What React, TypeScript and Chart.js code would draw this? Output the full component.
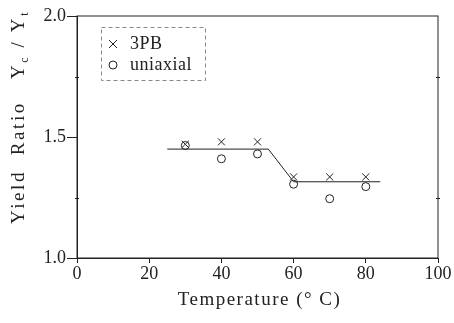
import React, { useEffect, useRef } from "react";
import { Chart, registerables } from "chart.js";

Chart.register(...registerables);

const temps = [30, 40, 50, 60, 70, 80];
const threePB = [1.47, 1.48, 1.48, 1.335, 1.335, 1.335];
const uniaxial = [1.465, 1.41, 1.43, 1.305, 1.245, 1.295];
const fitX = [25, 53, 60, 84];
const fitY = [1.45, 1.45, 1.315, 1.315];
const xTicks = [0, 20, 40, 60, 80, 100];
const yTicks = [1.0, 1.5, 2.0];
const yMinorTicks = [1.25, 1.75];

const FONT = '"Liberation Serif", "DejaVu Serif", serif';

const overlay = {
  id: "overlay",
  afterDraw(chart: any) {
    const { ctx, chartArea, scales } = chart;
    ctx.save();
    // frame
    ctx.strokeStyle = "#222";
    ctx.lineWidth = 1;
    ctx.strokeRect(chartArea.left, chartArea.top, chartArea.right - chartArea.left, chartArea.bottom - chartArea.top);

    // minor y ticks
    ctx.beginPath();
    for (const v of yMinorTicks) {
      const py = Math.round(scales.y.getPixelForValue(v)) + 0.5;
      ctx.moveTo(chartArea.left - 2, py);
      ctx.lineTo(chartArea.left + 2, py);
      ctx.moveTo(chartArea.right - 2, py);
      ctx.lineTo(chartArea.right + 2, py);
    }
    ctx.stroke();

    // x title
    ctx.fillStyle = "#222";
    ctx.font = `19px ${FONT}`;
    (ctx as any).letterSpacing = "1.5px";
    ctx.textAlign = "center";
    ctx.textBaseline = "middle";
    ctx.fillText("Temperature (\u00B0 C)", (chartArea.left + chartArea.right) / 2 + 2, 300);

    // y title with subscripts
    ctx.translate(18, 117);
    ctx.rotate(-Math.PI / 2);
    const parts: [string, boolean][] = [
      ["Yield  Ratio   Y", false],
      ["c", true],
      [" / Y", false],
      ["t", true],
    ];
    (ctx as any).letterSpacing = "2.6px";
    const mainFont = `19px ${FONT}`;
    const subFont = `12px ${FONT}`;
    let total = 0;
    for (const [t, s] of parts) {
      ctx.font = s ? subFont : mainFont;
      total += ctx.measureText(t).width;
    }
    let x = -total / 2;
    ctx.textAlign = "left";
    ctx.textBaseline = "alphabetic";
    for (const [t, s] of parts) {
      ctx.font = s ? subFont : mainFont;
      ctx.fillText(t, x, s ? 10 : 6);
      x += ctx.measureText(t).width;
    }
    ctx.setTransform(1, 0, 0, 1, 0, 0);

    // legend
    ctx.strokeStyle = "#888";
    ctx.setLineDash([4, 3]);
    ctx.lineWidth = 1;
    ctx.strokeRect(101.5, 27.5, 104, 53);
    ctx.setLineDash([]);
    ctx.strokeStyle = "#222";
    ctx.lineWidth = 1;
    ctx.beginPath();
    ctx.moveTo(109, 40);
    ctx.lineTo(117, 48);
    ctx.moveTo(117, 40);
    ctx.lineTo(109, 48);
    ctx.stroke();
    ctx.beginPath();
    ctx.arc(113, 65, 4, 0, Math.PI * 2);
    ctx.stroke();
    ctx.fillStyle = "#222";
    ctx.font = `18px ${FONT}`;
    (ctx as any).letterSpacing = "0.5px";
    ctx.textAlign = "left";
    ctx.textBaseline = "middle";
    ctx.fillText("3PB", 130, 44);
    ctx.fillText("uniaxial", 130, 65);
    ctx.restore();
  },
};

export default function App() {
  const ref = useRef<HTMLCanvasElement>(null);
  useEffect(() => {
    if (!ref.current) return;
    const chart = new Chart(ref.current, {
      type: "scatter",
      data: {
        datasets: [
          {
            label: "fit",
            type: "line",
            data: fitX.map((x, i) => ({ x, y: fitY[i] })),
            borderColor: "#222",
            borderWidth: 1,
            pointRadius: 0,
            fill: false,
          } as any,
          {
            label: "3PB",
            data: temps.map((x, i) => ({ x, y: threePB[i] })),
            pointStyle: "crossRot",
            pointRadius: 5,
            borderColor: "#222",
            borderWidth: 1,
          },
          {
            label: "uniaxial",
            data: temps.map((x, i) => ({ x, y: uniaxial[i] })),
            pointStyle: "circle",
            pointRadius: 4,
            backgroundColor: "rgba(255,255,255,0)",
            borderColor: "#222",
            borderWidth: 1,
          },
        ],
      },
      options: {
        animation: false,
        responsive: true,
        maintainAspectRatio: false,
        layout: { padding: { top: 16, right: 16, left: 0, bottom: 0 } },
        plugins: { legend: { display: false }, tooltip: { enabled: false } },
        scales: {
          x: {
            type: "linear",
            min: 0,
            max: 100,
            afterBuildTicks: (s: any) => {
              s.ticks = xTicks.map((v) => ({ value: v }));
            },
            afterFit: (s: any) => {
              s.height = 65;
            },
            grid: { drawOnChartArea: false, tickLength: 5, color: "#222" },
            border: { color: "#222" },
            ticks: {
              color: "#222",
              font: { family: FONT, size: 18 },
              padding: 0,
              maxRotation: 0,
            },
          },
          y: {
            type: "linear",
            min: 1.0,
            max: 2.0,
            afterBuildTicks: (s: any) => {
              s.ticks = yTicks.map((v) => ({ value: v }));
            },
            afterFit: (s: any) => {
              s.width = 77;
            },
            grid: { drawOnChartArea: false, tickLength: 10, color: "#222" },
            border: { color: "#222" },
            ticks: {
              color: "#222",
              font: { family: FONT, size: 18 },
              padding: 1,
              callback: (v: any) => Number(v).toFixed(1),
            },
          },
        },
      },
      plugins: [overlay],
    });
    return () => chart.destroy();
  }, []);
  return (
    <div style={{ position: "fixed", left: 0, top: 0, width: 454, height: 323, background: "#fff" }}>
      <canvas ref={ref} />
    </div>
  );
}
